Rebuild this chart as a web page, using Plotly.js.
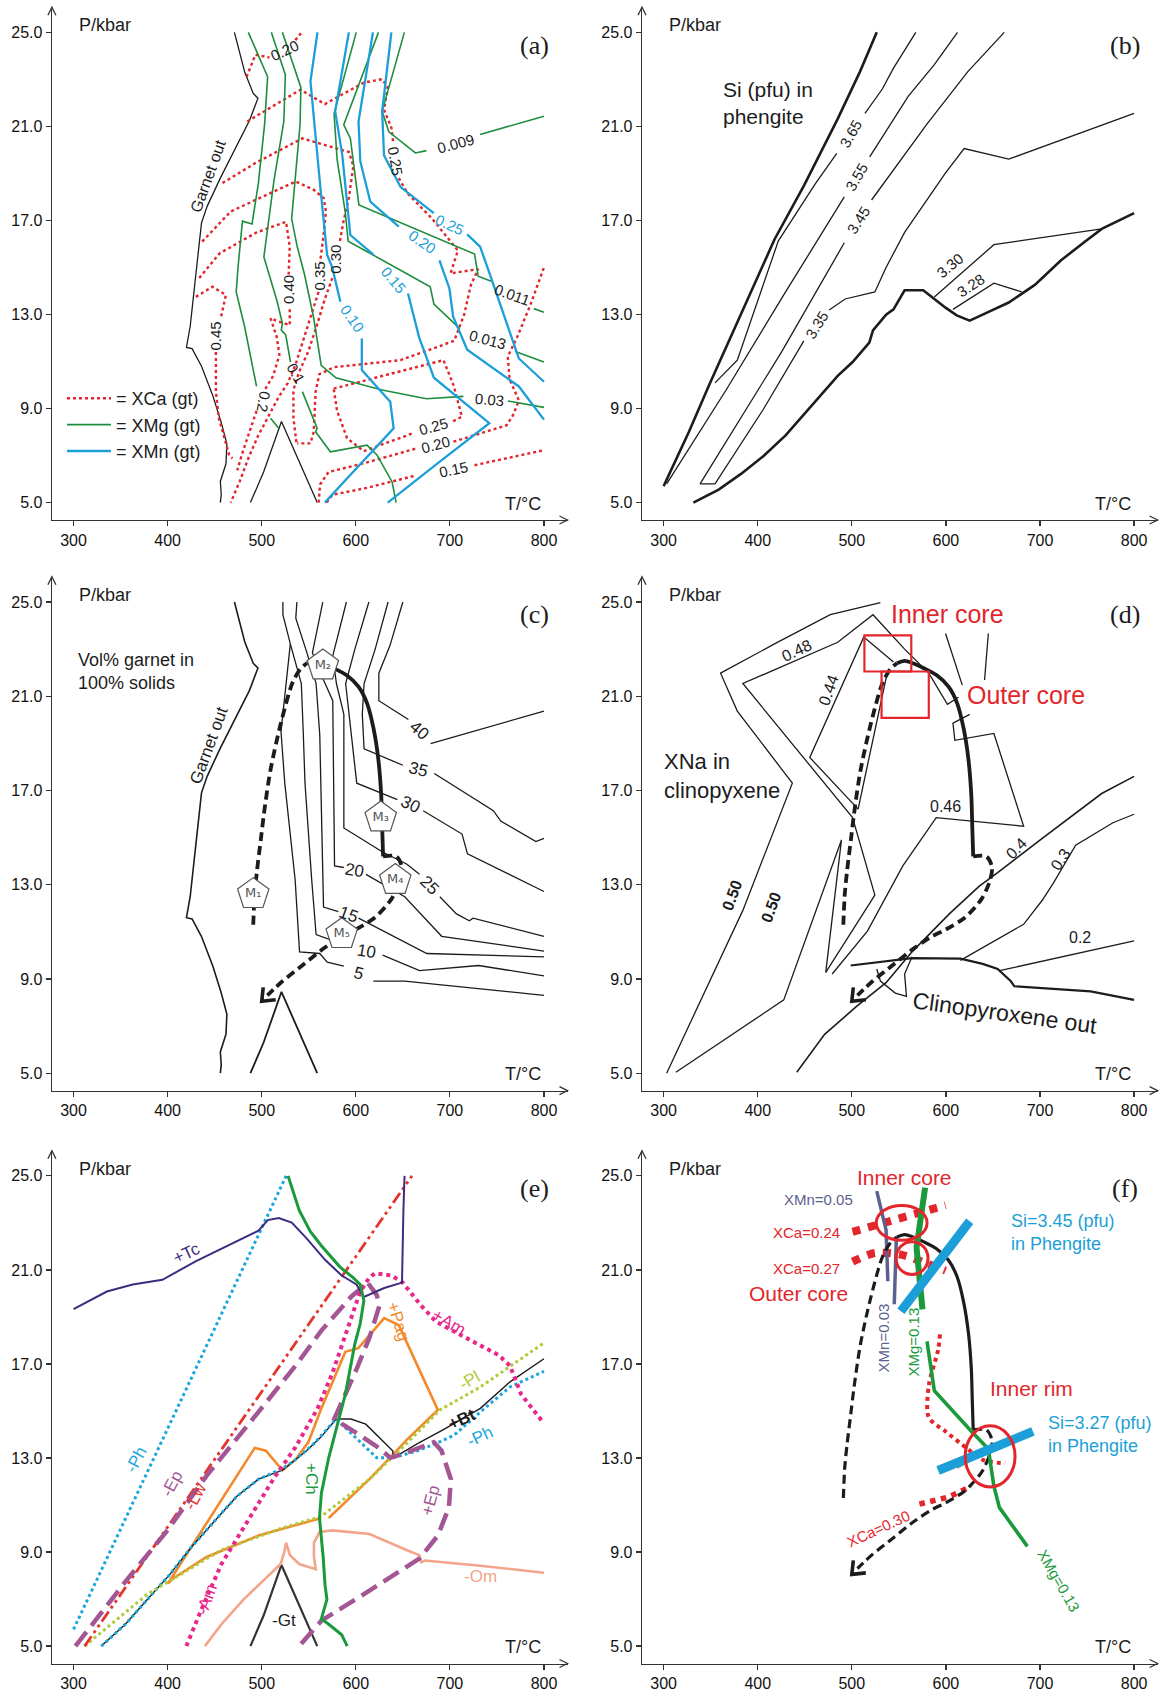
<!DOCTYPE html>
<html>
<head>
<meta charset="utf-8">
<script src="https://cdn.plot.ly/plotly-3.0.1.min.js"></script>
<style>
html,body{margin:0;padding:0;background:#fff;}
#chart{width:1164px;height:1695px;}
</style>
</head>
<body>
<div id="chart"></div>
<script>
// ---------------- axis ticks ----------------
const tTicks = [300, 400, 500, 600, 700, 800];
const pTicks = [5, 9, 13, 17, 21, 25];
const pTickText = ['5.0', '9.0', '13.0', '17.0', '21.0', '25.0'];

// ---------------- shared boundaries ----------------
const garnetOutT = [471,482,491,496,487,456,442,436,430,424,420,426,436,448,457,463,462,456,457,456];
const garnetOutP = [25,23.3,22.4,22.2,21.25,18.8,17.6,16.9,14.7,12.5,11.6,11.55,10.8,9.55,8.4,7.5,6.65,5.9,5.35,5.0];
const gtVT = [488,502,521,559];
const gtVP = [5,6.3,8.45,5];

// P-T path (prograde, peak-to-retrograde, exhumation)
const ptProgT = [491,492.5,495,499,502,509,520,533,542,548];
const ptProgP = [11.3,12.6,13.6,14.9,15.9,17.8,19.8,21.6,22.2,22.4];
const ptRetroT = [548,556,565,576,590,603,612,619,624,627,628,629];
const ptRetroP = [22.4,22.5,22.4,22.2,21.9,21.4,20.7,19.6,18.3,16.8,15.5,14.2];
const ptExhT = [629,643,649,647,638,620,600,585,566,544,522,506];
const ptExhP = [14.2,14.2,13.75,13.2,12.4,11.6,11.1,10.8,10.3,9.6,8.9,8.3];
const ptTipT = 500, ptTipP = 8.05;

// ---------------- (a) garnet isopleths ----------------
const aXCa020tT = [483.9,493.3,508.2,null,535.7,542.4];
const aXCa020tP = [23.11,24.05,23.93,null,24.67,25.0];
const aXCa025T = [484.6,541.2,567.1,608.4,628.0,633.9,630.0,637.8,639.8,null,645.7,655.5,681.0,708.5,700.7,730.1,722.3,715.2,704.6,647.6,576.9,561.2,557.3,555.3,551.8,537.7];
const aXCa025P = [21.21,22.56,21.95,22.86,23.01,22.66,21.70,20.95,20.28,null,18.80,18.13,17.08,15.72,14.75,14.93,14.26,13.0,11.88,11.06,10.76,10.46,9.72,8.01,7.52,7.52];
const aXCa030T = [458.3,494.5,543.2,561.2,592.7,597.4,592.7,586.8,582.8,null,575.0,567.1,558.1,549.5,539.6,533.7,533.7,536.9];
const aXCa030P = [18.59,19.47,20.49,20.28,19.91,19.32,17.98,16.94,16.04,null,14.55,13.66,12.47,11.43,10.54,9.79,8.60,7.56];
const aXCa035T = [436.7,467.0,536.1,555.3,565.9,568.3,565.2,562.0,null,560.4,553.4,545.5,535.7,527.8,518.0,508.2,496.4,486.6,476.8,467.0];
const aXCa035P = [16.10,17.38,18.66,18.30,17.95,17.38,16.19,15.22,null,13.96,13.07,12.03,10.84,10.09,9.49,8.75,7.86,6.97,5.92,5.0];
const aXCa040T = [433.6,455.2,494.5,525.9,529.8,528.6,null,529.8,529.8,518.0,509.4,516.1,518.8,512.1,503.1,null,494.5,486.6,479.5,474.0];
const aXCa040P = [14.55,15.60,16.49,16.94,15.89,14.70,null,13.22,12.55,12.70,12.84,12.03,11.28,10.39,9.79,null,8.90,8.01,7.12,6.37];
const aXCa045T = [430.0,447.7,461.9,456.4,null,451.3,451.3,454.4,465.4,468.9];
const aXCa045P = [13.75,14.18,13.83,12.83,null,11.41,9.72,8.59,7.03,6.88];
const aXCa025loopT = [576.5,693.2,703.8,712.8,702.3,null,659.4,608.4,590.7,580.1,576.5];
const aXCa025loopP = [9.85,11.06,10.00,8.65,8.44,null,7.93,7.19,7.74,8.90,9.85];
const aXCa020bT = [560.5,562.0,571.0,608.4,664.9,null,703.8,760.4,767.5,773.3,763.5,761.5,771.4,785.1,800];
const aXCa020bP = [5.0,5.77,6.30,6.67,7.31,null,7.59,8.29,8.75,9.35,10.24,11.21,12.03,13.36,15.0];
const aXCa015T = [569.1,575.0,612.3,663.4,null,726.2,800];
const aXCa015P = [5.0,5.33,5.63,6.15,null,6.59,7.23];

const aXMg1T = [485.8,506.3,503.1,496.4,489.7,479.5,474.8,472.9,481.9,494.5,null,509.4,518.0];
const aXMg1P = [25,23.11,21.1,18.57,16.85,16.97,15.0,13.96,12.47,9.94,null,8.59,8.16];
const aXMg2T = [510.2,525.1,523.5,512.9,502.3,516.5,522.0,520.8,525.5,530.6,null,543.2,558.9,557.3,573.0,611.9,622.5,638.6,642.9];
const aXMg2P = [25,23.2,21.21,18.66,15.45,13.54,12.62,12.34,12.13,10.98,null,9.72,8.16,8.01,7.16,7.44,7.03,5.88,5.0];
const aXMg3T = [522.0,541.6,540.8,531.8,537.7,545.5,555.3,563.2,578.9,628.0,675.1,714.4,null,761.6,800];
const aXMg3P = [25,22.66,21.10,17.08,15.89,14.70,12.84,10.84,10.31,9.79,9.42,9.52,null,9.32,9.05];
const aXMg4T = [600.5,576.9,580.1,588.7,591.9,679.1,683.0,710.5,null,769.4,800];
const aXMg4P = [25,21.55,19.61,17.38,16.12,14.18,13.44,12.40,null,11.43,10.98];
const aXMg5T = [624.1,587.2,594.2,603.3,726.2,730.1,743.9,null,789.1,800];
const aXMg5P = [25,21.07,20.49,17.66,15.57,14.63,14.41,null,13.25,13.10];
const aXMg6T = [651.6,628.0,635.1,663.4,675.1,null,732.1,800];
const aXMg6P = [25,21.64,20.77,19.87,19.97,null,20.66,21.43];

const aXMn010T = [559.3,551.8,562.4,569.5,575.0,583.6,null,606.4,606.4,636.6,640.2,587.2,567.1];
const aXMn010P = [25,22.92,18.38,15.54,15.0,13.54,null,11.98,10.64,9.29,8.16,5.88,5.0];
const aXMn015T = [592.6,578.1,585.6,594.2,619.0,null,655.5,667.3,683.0,741.9,686.9,633.9];
const aXMn015P = [25,21.64,19.79,16.38,15.54,null,13.89,12.03,10.31,8.38,6.67,5.0];
const aXMn020T = [618.2,602.9,604.8,615.4,645.7,null,688.9,699.5,703.4,718.4,773.3,800];
const aXMn020P = [25,21.21,19.51,17.80,16.74,null,15.30,14.11,12.92,11.50,9.94,8.53];
const aXMn025T = [637.8,628.0,630.0,647.6,682.9,null,718.4,732.1,743.9,773.3,800];
const aXMn025P = [25,21.64,19.76,18.42,17.31,null,16.41,15.89,14.55,11.13,10.14];

// contour labels of (a): [T, P, text, angle]
const aCaLabels = [[523.9,24.23,'0.20',-25],[641.8,19.54,'0.25',80],[578.9,15.37,'0.30',-90],[561.2,14.63,'0.35',-90],
  [527.8,14.08,'0.40',-90],[451.3,12.10,'0.45',-90],[682.2,8.23,'0.25',-15],[685,7.47,'0.20',-15],[703.4,6.40,'0.15',-12]];
const aMgLabels = [[706.6,20.28,'0.009',-15],[765.5,13.84,'0.011',20],[740,11.95,'0.013',15],[741.9,9.39,'0.03',5],
  [502.3,9.27,'0.2',100],[536.9,10.51,'0.1',60]];
const aMnLabels = [[596.6,12.84,'0.10',55],[639.8,14.48,'0.15',50],[670.4,16.12,'0.20',35],[699.5,16.82,'0.25',25]];

// ---------------- (b) Si in phengite ----------------
const bLimitT = [300,326.9,348.6,374.3,402,417.8,449.4,485,508.7,526.5];
const bLimitP = [5.70,8.01,10.02,12.32,14.78,16.19,18.50,21.32,23.33,25];
const bSi365T = [354.6,378.3,421.8,461.3,484,null,514,532.4,544.3,568];
const bSi365P = [10.09,11.06,16.12,18.57,19.85,null,21.55,22.59,23.48,25];
const bSi355T = [303.2,366.4,429.6,477.1,492,null,519,536.4,560.1,587.7,612.3];
const bSi355P = [5.80,9.79,13.96,17.08,18.0,null,19.7,20.80,22.29,23.63,25];
const bSi345T = [338.7,425.7,492,null,521,579.8,623.3,662.0];
const bSi345P = [5.80,11.43,16.05,null,17.87,21.10,23.33,25];
const bSi335T = [338.7,354.6,406.0,449,null,476,492.9,524.5,536.4,556.1,581.8,599.6,619.4,666.8,800];
const bSi335P = [5.80,5.80,8.97,11.88,null,13.19,13.66,13.96,15.0,16.49,17.98,19.02,20.06,19.61,21.55];
const bLowT = [331.6,358.5,382.2,405.9,429.6,449.4,469.2,485,500.8,518.6,522.5,528.5,536.4,544.3,556.1,575.9,587.7,599.6,611.5,625.3,643.1,666.8,694.5,722.1,745.9,765.6,800];
const bLowP = [5.0,5.55,6.22,6.97,7.86,8.75,9.64,10.39,10.98,11.80,12.32,12.62,12.99,13.22,14.03,14.03,13.66,13.29,12.96,12.74,13.07,13.51,14.26,15.30,16.04,16.64,17.31];
const bSi330T = [587.7,651,765.6];
const bSi330P = [13.74,15.97,16.64];
const bSi328T = [607.5,651,680.6];
const bSi328P = [13.22,14.33,13.96];
const bLabels = [[498.8,20.7,'3.65',-60],[505.5,18.86,'3.55',-60],[506.7,17.0,'3.45',-58],[462,12.55,'3.35',-58],
  [604,15.1,'3.30',-40],[626,14.25,'3.28',-33]];

// ---------------- (c) vol% garnet ----------------
const cV40T = [650,636.3,624.5,624.5,655.9,null,679.5,800];
const cV40P = [25,23.15,21.98,20.81,20.01,null,18.99,20.37];
const cV35T = [634.3,620.6,608.8,606.9,608.8,650,null,683.4,746.2,754.1,791.4,800];
const cV35P = [25,23.0,21.54,20.23,18.77,18.07,null,17.72,16.14,15.70,14.83,14.97];
const cV30T = [613.9,599,589.2,593.1,601,644.2,null,671.6,712.9,718.7,800];
const cV30P = [25,23.0,21.54,20.23,17.31,16.61,null,16.14,15.15,14.31,12.71];
const cV25T = [590,575.5,579.4,587.3,587.3,628.5,654,667.7,null,689.3,707,720.7,724.6,800];
const cV25P = [25,22.71,21.54,20.23,15.41,14.39,13.88,13.44,null,12.49,11.76,11.47,11.58,10.81];
const cV20T = [564.9,553.9,565.7,575.5,577.4,587.3,null,610.8,652,691.3,800];
const cV20P = [25,22.85,21.69,20.81,13.8,13.73,null,13.44,12.49,10.81,10.18];
const cV15T = [537.4,536.2,548,557.8,561.7,565.7,581.4,null,602.9,675.5,800];
const cV15P = [25,24.31,22.85,21.54,19.35,12.05,11.86,null,11.58,10.08,9.94];
const cV10T = [522.5,522.5,530.4,542.1,544.1,546,553.1,557.8,595.1,null,628.5,667.7,730.5,800];
const cV10P = [25,24.46,23.22,21.54,19.5,17.31,13.22,10.88,10.34,null,10.01,9.35,9.57,9.13];
const cV5T = [530.4,520.5,524.5,535.5,540.2,561.7,569.6,587.3,null,618.6,652,800];
const cV5P = [23.22,19.5,17.31,13.22,10.15,10.08,9.71,9.54,null,8.91,8.91,8.30];
const cLabels = [[667.7,19.55,'40',40],[666.5,17.9,'35',15],[657.9,16.4,'30',25],[678.5,12.97,'25',45],
  [599,13.6,'20',10],[592.2,11.72,'15',20],[611.8,10.18,'10',10],[603,9.22,'5',15]];
const stageT = [491,565,626.5,642,585];
const stageP = [12.6,22.3,15.85,13.2,10.9];
const stageNames = ['M₁','M₂','M₃','M₄','M₅'];

// ---------------- (d) XNa in clinopyroxene ----------------
const dN050aT = [303.2,384.2,436.8,378.3,360.5,417.8,477.1,492.9,530.4];
const dN050aP = [5.0,11.91,17.31,20.37,21.98,23.22,24.46,24.61,24.97];
const dN050bT = [313,427.7,489,472.3];
const dN050bP = [5.04,8.11,14.90,9.28];
const dN048T = [472.3,524.5,500.8,384.2,485,522.5,556.1,581.8,601.6,613.4];
const dN048P = [9.28,12.56,15.85,21.54,23.29,24.46,23.0,21.98,20.66,20.96];
const dN044T = [544.3,512.7,455.3,506.7,538.3];
const dN044P = [22.45,23.51,18.40,16.21,22.12];
const dN046T = [479.1,516.6,554.2,589.7,682.6,651.0,609.5,607.5,625.3];
const dN046P = [9.21,11.03,13.80,15.85,15.48,19.42,19.13,19.86,20.23];
const dTick1T = [599.6,617.4], dTick1P = [23.66,21.47];
const dTick2T = [645.1,641.1], dTick2P = [23.66,21.69];
const dN04T = [441.5,471.1,504.7,536.4,564,603.6,635.2,655,702.4,765.6,800];
const dN04P = [5.04,6.65,7.82,8.84,10.15,11.76,12.93,13.51,14.97,16.87,17.60];
const dN03T = [615.4,682.6,702.4,714.2,737.9,777.5,800];
const dN03P = [9.79,11.32,12.34,13.07,14.68,15.63,15.99];
const dN02T = [656.9,800];
const dN02P = [9.35,10.62];
const dCpxOutT = [498.8,564,615.4,639.1,655,668.8,672.7,753.8,800];
const dCpxOutP = [9.57,9.88,9.86,9.64,9.42,8.91,8.69,8.47,8.11];
const dLoopT = [526.5,530.4,546.2,558.1,556.1,564];
const dLoopP = [9.42,8.91,8.40,8.26,9.21,9.94];
const dZoneT0 = [513.4,531.6], dZoneT1 = [563.2,581.8];
const dZoneP0 = [22.05,20.08], dZoneP1 = [23.58,22.05];
const dLabels = [[441.5,22.95,'0.48',-25,false],[475.1,21.25,'0.44',-70,false],[372.3,12.56,'0.50',-70,true],
  [413.8,12.05,'0.50',-70,true],[599.6,16.3,'0.46',0,false],[674.7,14.55,'0.4',-45,false],
  [722.1,14.05,'0.3',-55,false],[742.7,10.75,'0.2',0,false]];

// ---------------- (e) phase boundaries ----------------
const eTcT = [300,335.4,362.9,394.4,429.7,473,496.6,506.4,518.2,531.9,547.7,567.3,585,600.7,608.6,630.2,649.1,650.6,651.8];
const eTcP = [19.33,20.08,20.38,20.58,21.36,22.19,22.67,23.12,23.21,23.01,22.34,21.43,20.76,20.38,19.85,20.23,20.46,23.54,25.0];
const ePhHighT = [300,526];
const ePhHighP = [5.71,25];
const eChT = [528.0,539.8,551.6,563.4,583.0,596.8,604.7,608.6,604.7,598.8,588.9,581.1,571.2,563.4,561.4,565.3,567.3,569.3,563.4,571.2,585.0,590.9];
const eChP = [25,23.54,22.64,22.03,21.13,20.68,20.38,19.70,18.72,17.82,15.71,14.51,13.01,11.5,10.45,8.79,7.59,6.99,6.16,5.93,5.48,5.0];
const eLwT = [311.8,659.7];
const eLwP = [5,25];
const eEpT = [302.0,355.1,398.3,441.5,496.6,535.9,563.4,594.8,612.5,622.3,625.1,614.5,600.7,587.0,577.1,601.9,621.2,636.9,653.8,682.9,691.1,701.0,699.0,687.2,667.5,614.5,563.4,539.8];
const eEpP = [5,7.74,9.85,12.25,14.96,16.92,18.42,19.85,20.46,19.93,19.48,18.12,16.77,15.56,14.66,14.03,13.52,13.01,13.23,13.67,13.31,12.10,10.90,9.70,8.72,7.36,6.08,5.0];
const eAmT = [419.9,435.6,457.2,488.7,512.3,535.9,559.4,575.2,587.0,598.8,604.7,614.5,620.4,638.0,649.8,669.5,685.2,716.7,752.1,763.9,775.7,799.2];
const eAmP = [5.0,6.53,8.49,10.6,12.10,13.46,15.11,16.62,17.97,19.33,20.08,20.68,20.86,20.76,20.46,19.48,18.8,18.12,17.37,16.92,15.71,14.51];
const ePagT = [563.4,535.9,496.6,441.5,406.1,400.3,492.6,504.4,522.1,535.9,549.6,563.4,585.0,588.9,602.7,630.2,645.9,651.8,687.2,653.8,638.0,614.5,571.2];
const ePagP = [10.45,10.15,9.70,8.79,7.89,7.66,13.43,13.31,12.48,12.93,13.68,15.11,17.22,17.52,17.67,18.95,18.65,18.12,15.04,13.76,13.08,12.10,10.45];
const ePlT = [311.8,378.6,457.2,520.1,563.4,614.5,653.8,689.2,732.4,800];
const ePlP = [5.0,7.21,9.09,10.0,10.52,12.10,13.61,15.04,16.02,17.90];
const eBtT = [329.5,355.1,378.6,402.2,425.8,449.4,473.0,496.6,522.1,547.7,563.4,579.1,594.8,610.6,626.3,639.2,640.0,665.6,693.1,732.4,763.9,800];
const eBtP = [5.0,5.93,6.99,8.04,9.24,10.30,11.35,12.10,12.48,13.31,13.91,14.66,14.66,14.44,13.83,13.31,13.01,13.61,14.21,15.11,16.24,17.22];
const ePhLowT = [329.5,355.1,378.6,402.2,425.8,449.4,473.0,496.6,522.1,535.9,555.5,579.1,598.8,622.3,640.0,665.6,685.2,704.9,732.4,763.9,800];
const ePhLowP = [5.0,5.93,6.99,8.04,9.24,10.30,11.35,12.10,12.55,12.93,13.61,14.66,13.91,13.01,13.01,13.31,13.61,13.98,14.96,16.02,16.69];
const eOmT = [439.6,457.2,480.8,508.4,520.1,524.1,526.0,530.0,539.8,557.5,555.5,555.5,561.4,575.2,614.5,653.8,667.5,669.5,673.4,732.4,800];
const eOmP = [5.0,5.93,6.99,8.04,8.49,9.02,9.39,8.87,8.49,8.27,8.79,9.39,9.85,9.92,9.77,9.09,8.87,8.57,8.64,8.42,8.12];

// ---------------- (f) isopleth intersections ----------------
const fXMn005T = [526.5,536.4,538.3], fXMn005P = [24.35,22.70,20.52];
const fXMn003T = [547.4,545.1], fXMn003P = [22.4,19.54];
const fXMgCoreT = [577.9,568.8,575.1], fXMgCoreP = [24.50,21.95,19.32];
const fXMgRimT = [579.9,587.7,627.3,645.1,651,656.9,686.6];
const fXMgRimP = [17.96,15.86,14.13,13.38,11.80,10.89,9.24];
const fXCa024T = [500.8,599.6], fXCa024P = [22.62,23.75];
const fXCa027T = [500.8,524.5,552.2,579.9,599.6], fXCa027P = [21.35,21.72,21.65,21.27,20.97];
const fXCaRimT = [593.7,591.7,581.8,581.8,599.6,623.3,639.1,662.9];
const fXCaRimP = [18.26,17.59,16.08,14.73,14.13,13.38,12.92,12.77];
const fXCa030T = [571.9,603.6,627.3], fXCa030P = [11.04,11.35,11.80];
const fSi345T = [552.2,625.3], fSi345P = [19.24,23.07];
const fSi327T = [591.7,692.5], fSi327P = [12.47,14.13];
const fShadowT = [611.5,643.1], fShadowP = [12.62,13.30];
const fZoneT = [553,564,647], fZoneP = [23.0,21.5,13.07];
const fZoneHalfT = [27,17,26.5], fZoneHalfP = [0.74,0.7,1.3];

// ---------------- styling ----------------
const FONT = 'Liberation Sans, Arial, Helvetica, sans-serif';
const SERIF = 'Liberation Serif, Times New Roman, serif';
const INK = '#1c1c1c';
const RED = '#e2262c', GREEN = '#1e8d3d', BLUE = '#1c9fd8';

const traces = [];
const annotations = [];
const shapes = [];

function axn(n) { return n === 1 ? ['x', 'y'] : ['x' + n, 'y' + n]; }
function line(n, T, P, color, width, dash, extra) {
  const [xa, ya] = axn(n);
  const tr = {type: 'scatter', mode: 'lines', x: T, y: P, xaxis: xa, yaxis: ya,
    line: {color: color, width: width, dash: dash || 'solid'},
    hoverinfo: 'skip', showlegend: false, connectgaps: false};
  if (extra) {
    if (extra.shape) { tr.line.shape = extra.shape; tr.line.smoothing = extra.smoothing || 0.8; }
    if (extra.name) { tr.name = extra.name; tr.showlegend = true; tr.legendrank = extra.rank; }
  }
  traces.push(tr);
}
function text(n, T, P, s, o) {
  o = o || {};
  const [xa, ya] = axn(n);
  annotations.push({xref: xa, yref: ya, x: T, y: P, text: s, showarrow: false,
    textangle: o.angle || 0, xanchor: o.xanchor || 'center', yanchor: o.yanchor || 'middle',
    align: o.align || 'left',
    font: {family: o.family || FONT, size: o.size || 15, color: o.color || INK}});
}
// open chevron drawn in pixels around an anchor point (pixel y grows upward)
function chevron(xref, yref, xa, ya, path, color, width) {
  shapes.push({type: 'path', xref: xref, yref: yref, xsizemode: 'pixel', ysizemode: 'pixel',
    xanchor: xa, yanchor: ya, path: path, line: {color: color, width: width}, fillcolor: 'rgba(0,0,0,0)', layer: 'above'});
}
function pathArrow(n) {
  const [xa, ya] = axn(n);
  chevron(xa, ya, ptTipT, ptTipP, 'M1.5,14L0,0L14,1.5', INK, 3.6);
}

// ---------------- panel frames ----------------
const W = 1164, H = 1695;
const T_MIN = 277, T_MAX = 825, P_MIN = 4.26, P_MAX = 26.07;
const colPx = [[51.9, 567.5], [642.0, 1157.6]];
const rowPx = [[520.0, 7.2], [1090.6, 576.8], [1663.5, 1150.7]];
const panelLetters = ['(a)', '(b)', '(c)', '(d)', '(e)', '(f)'];

const layout = {
  width: W, height: H, autosize: false,
  margin: {l: 0, r: 0, t: 0, b: 0, pad: 0},
  paper_bgcolor: '#ffffff', plot_bgcolor: '#ffffff',
  showlegend: true,
  legend: {x: 62 / W, y: 1 - 380 / H, xanchor: 'left', yanchor: 'top', bgcolor: 'rgba(0,0,0,0)',
    font: {family: FONT, size: 18, color: INK}, itemwidth: 44, tracegroupgap: 0, traceorder: 'normal',
    itemclick: false, itemdoubleclick: false},
  annotations: annotations, shapes: shapes
};

for (let i = 0; i < 6; i++) {
  const n = i + 1;
  const c = colPx[i % 2], r = rowPx[Math.floor(i / 2)];
  const sx = n === 1 ? '' : String(n);
  layout['xaxis' + sx] = {
    domain: [c[0] / W, c[1] / W], range: [T_MIN, T_MAX], anchor: 'y' + sx,
    tickmode: 'array', tickvals: tTicks, ticks: 'outside', ticklen: 5, tickwidth: 1.2, tickcolor: '#333',
    showline: true, linecolor: '#333', linewidth: 1.3, showgrid: false, zeroline: false,
    tickfont: {family: FONT, size: 16, color: '#111'}, fixedrange: true
  };
  layout['yaxis' + sx] = {
    domain: [1 - r[0] / H, 1 - r[1] / H], range: [P_MIN, P_MAX], anchor: 'x' + sx,
    tickmode: 'array', tickvals: pTicks, ticktext: pTickText, ticks: 'outside', ticklen: 5, tickwidth: 1.2,
    tickcolor: '#333', showline: true, linecolor: '#333', linewidth: 1.3, showgrid: false, zeroline: false,
    tickfont: {family: FONT, size: 16, color: '#111'}, fixedrange: true
  };
  // axis arrowheads
  chevron('x' + sx + ' domain', 'y' + sx + ' domain', 1, 0, 'M-8,4L0,0L-8,-4', '#333', 1.3);
  chevron('x' + sx + ' domain', 'y' + sx + ' domain', 0, 1, 'M-4,-8L0,0L4,-8', '#333', 1.3);
  text(n, 333, 25.3, 'P/kbar', {size: 18, xanchor: 'center'});
  text(n, 778, 4.95, 'T/°C', {size: 18, xanchor: 'center'});
  text(n, 790, 24.45, panelLetters[i], {size: 26, family: SERIF, xanchor: 'center'});
}

// ---------------- (a) ----------------
line(1, garnetOutT, garnetOutP, INK, 1.3);
line(1, gtVT, gtVP, INK, 1.3);
const aCa = [[aXCa045T, aXCa045P], [aXCa020tT, aXCa020tP], [aXCa025T, aXCa025P], [aXCa030T, aXCa030P],
  [aXCa035T, aXCa035P], [aXCa040T, aXCa040P], [aXCa025loopT, aXCa025loopP], [aXCa020bT, aXCa020bP], [aXCa015T, aXCa015P]];
aCa.forEach((d, k) => line(1, d[0], d[1], RED, 2.4, 'dot', k === 0 ? {name: '= XCa (gt)', rank: 1} : null));
const aMg = [[aXMg1T, aXMg1P], [aXMg2T, aXMg2P], [aXMg3T, aXMg3P], [aXMg4T, aXMg4P], [aXMg5T, aXMg5P], [aXMg6T, aXMg6P]];
aMg.forEach((d, k) => line(1, d[0], d[1], GREEN, 1.6, 'solid', k === 0 ? {name: '= XMg (gt)', rank: 2} : null));
const aMn = [[aXMn010T, aXMn010P], [aXMn015T, aXMn015P], [aXMn020T, aXMn020P], [aXMn025T, aXMn025P]];
aMn.forEach((d, k) => line(1, d[0], d[1], BLUE, 2.3, 'solid', k === 0 ? {name: '= XMn (gt)', rank: 3} : null));
aCaLabels.forEach(l => text(1, l[0], l[1], l[2], {angle: l[3], size: 15, xanchor: 'center'}));
aMgLabels.forEach(l => text(1, l[0], l[1], l[2], {angle: l[3], size: 15, xanchor: 'center'}));
aMnLabels.forEach(l => text(1, l[0], l[1], l[2], {angle: l[3], size: 15, color: BLUE, xanchor: 'center'}));
text(1, 443.4, 18.9, 'Garnet out', {angle: -70, size: 16, xanchor: 'center'});

// ---------------- (b) ----------------
line(2, bLimitT, bLimitP, INK, 2.6);
line(2, bLowT, bLowP, INK, 2.6);
[[bSi365T, bSi365P], [bSi355T, bSi355P], [bSi345T, bSi345P], [bSi335T, bSi335P], [bSi330T, bSi330P], [bSi328T, bSi328P]]
  .forEach(d => line(2, d[0], d[1], INK, 1.3));
bLabels.forEach(l => text(2, l[0], l[1], l[2], {angle: l[3], size: 15, xanchor: 'center'}));
text(2, 361, 22.0, 'Si (pfu) in<br>phengite', {size: 21, xanchor: 'left'});

// ---------------- (c) ----------------
line(3, garnetOutT, garnetOutP, INK, 1.6);
line(3, gtVT, gtVP, INK, 1.8);
[[cV40T, cV40P], [cV35T, cV35P], [cV30T, cV30P], [cV25T, cV25P], [cV20T, cV20P], [cV15T, cV15P], [cV10T, cV10P], [cV5T, cV5P]]
  .forEach(d => line(3, d[0], d[1], INK, 1.3));
cLabels.forEach(l => text(3, l[0], l[1], l[2], {angle: l[3], size: 17, xanchor: 'center'}));
text(3, 444, 18.9, 'Garnet out', {angle: -70, size: 17, xanchor: 'center'});
text(3, 302.7, 22.05, 'Vol% garnet in<br>100% solids', {size: 18, xanchor: 'left'});
line(3, ptProgT, ptProgP, INK, 3.8, '9px,5px', {shape: 'spline'});
line(3, ptRetroT, ptRetroP, INK, 3.8, 'solid', {shape: 'spline'});
line(3, ptExhT, ptExhP, INK, 3.8, '9px,5px', {shape: 'spline'});
pathArrow(3);
traces.push({type: 'scatter', mode: 'markers+text', x: stageT, y: stageP, xaxis: 'x3', yaxis: 'y3',
  text: stageNames, textposition: 'middle center', textfont: {family: 'DejaVu Sans, ' + FONT, size: 13, color: '#555'},
  marker: {symbol: 'pentagon', size: 33, color: '#ffffff', line: {color: '#555', width: 1.2}},
  hoverinfo: 'skip', showlegend: false, cliponaxis: false});

// ---------------- (d) ----------------
[[dN050aT, dN050aP], [dN050bT, dN050bP], [dN048T, dN048P], [dN044T, dN044P], [dN046T, dN046P],
 [dTick1T, dTick1P], [dTick2T, dTick2P], [dN03T, dN03P], [dN02T, dN02P], [dLoopT, dLoopP]]
  .forEach(d => line(4, d[0], d[1], INK, 1.3));
line(4, dN04T, dN04P, INK, 1.6);
line(4, dCpxOutT, dCpxOutP, INK, 2.2);
line(4, ptProgT, ptProgP, INK, 3.8, '9px,5px', {shape: 'spline'});
line(4, ptRetroT, ptRetroP, INK, 3.8, 'solid', {shape: 'spline'});
line(4, ptExhT, ptExhP, INK, 3.8, '9px,5px', {shape: 'spline'});
pathArrow(4);
for (let k = 0; k < dZoneT0.length; k++) {
  shapes.push({type: 'rect', xref: 'x4', yref: 'y4', x0: dZoneT0[k], x1: dZoneT1[k], y0: dZoneP0[k], y1: dZoneP1[k],
    line: {color: RED, width: 2.2}, fillcolor: 'rgba(0,0,0,0)', layer: 'above'});
}
dLabels.forEach(l => text(4, l[0], l[1], l[4] ? '<b>' + l[2] + '</b>' : l[2], {angle: l[3], size: 16, xanchor: 'center'}));
text(4, 662.9, 7.55, 'Clinopyroxene out', {angle: 8, size: 23, xanchor: 'center'});
text(4, 298, 17.6, 'XNa in<br>clinopyxene', {size: 22, xanchor: 'left'});
text(4, 539, 24.49, 'Inner core', {size: 25, color: RED, xanchor: 'left'});
text(4, 620.5, 21.04, 'Outer core', {size: 25, color: RED, xanchor: 'left'});

// ---------------- (e) ----------------
const C_TC = '#3d2c80', C_CY = '#1ba7dc', C_GR = '#1b9a3c', C_RD = '#e3352b', C_PU = '#a45694',
      C_MG = '#e8278b', C_OR = '#f28a2b', C_LI = '#aecb38', C_SA = '#f4a48b';
line(5, gtVT, gtVP, '#333', 2.2);
line(5, eOmT, eOmP, C_SA, 2.6);
line(5, ePagT, ePagP, C_OR, 2.6);
line(5, eBtT, eBtP, INK, 1.4);
line(5, ePhLowT, ePhLowP, C_CY, 3, 'dot');
line(5, ePlT, ePlP, C_LI, 3, 'dot');
line(5, ePhHighT, ePhHighP, C_CY, 3, 'dot');
line(5, eLwT, eLwP, C_RD, 2.8, '12px,4px,3px,4px,3px,4px');
line(5, eEpT, eEpP, C_PU, 4.5, '18px,8px');
line(5, eAmT, eAmP, C_MG, 4, 'dot');
line(5, eTcT, eTcP, C_TC, 2);
line(5, eChT, eChP, C_GR, 3);
[[419.9,21.7,'+Tc',-25,C_TC],[366.8,12.93,'-Ph',-62,C_CY],[404.2,11.88,'-Ep',-62,C_PU],[429.7,11.35,'-Lw',-62,C_RD],
 [441.5,6.99,'-Am',-70,C_MG],[553.6,12.10,'+Ch',90,C_GR],[645,18.8,'+Pag',72,C_OR],[699,18.75,'+Am',30,C_MG],
 [720.6,16.3,'-Pl',-30,C_LI],[712.6,14.62,'<b>+Bt</b>',-25,INK],[732.4,13.9,'-Ph',-25,C_CY],[679.3,11.20,'+Ep',-75,C_PU],
 [732.4,7.96,'-Om',0,C_SA],[524.1,6.08,'-Gt',0,INK]]
  .forEach(l => text(5, l[0], l[1], l[2], {angle: l[3], size: 17, color: l[4], xanchor: 'center'}));

// ---------------- (f) ----------------
const C_MN = '#5b628e';
line(6, fXCa024T, fXCa024P, RED, 8, 'dot');
line(6, fXCa027T, fXCa027P, RED, 8, 'dot', {shape: 'spline'});
line(6, fXCaRimT, fXCaRimP, RED, 4, 'dot', {shape: 'spline'});
line(6, fXCa030T, fXCa030P, RED, 5.5, 'dot');
line(6, fXMn005T, fXMn005P, C_MN, 3.5);
line(6, fXMn003T, fXMn003P, C_MN, 3.5);
line(6, ptProgT, ptProgP, INK, 3.2, '9px,5px', {shape: 'spline'});
line(6, ptRetroT, ptRetroP, INK, 3.2, 'solid', {shape: 'spline'});
line(6, ptExhT, ptExhP, INK, 3.2, '9px,5px', {shape: 'spline'});
pathArrow(6);
line(6, fXMgCoreT, fXMgCoreP, C_GR, 6);
line(6, fXMgRimT, fXMgRimP, C_GR, 3.6);
line(6, fShadowT, fShadowP, '#8d8f99', 4);
line(6, fSi345T, fSi345P, BLUE, 9);
line(6, fSi327T, fSi327P, BLUE, 9);
for (let k = 0; k < fZoneT.length; k++) {
  shapes.push({type: 'circle', xref: 'x6', yref: 'y6',
    x0: fZoneT[k] - fZoneHalfT[k], x1: fZoneT[k] + fZoneHalfT[k],
    y0: fZoneP[k] - fZoneHalfP[k], y1: fZoneP[k] + fZoneHalfP[k],
    line: {color: RED, width: 3}, fillcolor: 'rgba(0,0,0,0)', layer: 'above'});
}
text(6, 555.5, 24.95, 'Inner core', {size: 21, color: RED, xanchor: 'center'});
text(6, 465, 23.99, 'XMn=0.05', {size: 15, color: C_MN, xanchor: 'center'});
text(6, 452, 22.58, 'XCa=0.24', {size: 15, color: RED, xanchor: 'center'});
text(6, 452, 21.08, 'XCa=0.27', {size: 15, color: RED, xanchor: 'center'});
text(6, 443, 19.99, 'Outer core', {size: 21, color: RED, xanchor: 'center'});
text(6, 667, 22.59, 'Si=3.45 (pfu)<br>in Phengite', {size: 18, color: BLUE, xanchor: 'left'});
text(6, 533.5, 18.1, 'XMn=0.03', {size: 15, color: C_MN, angle: -90, xanchor: 'center'});
text(6, 566, 17.95, 'XMg=0.13', {size: 15, color: C_GR, angle: -90, xanchor: 'center'});
text(6, 645, 15.95, 'Inner rim', {size: 21, color: RED, xanchor: 'left'});
text(6, 706, 14.02, 'Si=3.27 (pfu)<br>in Phengite', {size: 18, color: BLUE, xanchor: 'left'});
text(6, 528.5, 9.99, 'XCa=0.30', {size: 15, color: RED, angle: -25, xanchor: 'center'});
text(6, 720.2, 7.81, 'XMg=0.13', {size: 15, color: C_GR, angle: 60, xanchor: 'center'});

Plotly.newPlot('chart', traces, layout, {staticPlot: true, displayModeBar: false});
</script>
</body>
</html>
